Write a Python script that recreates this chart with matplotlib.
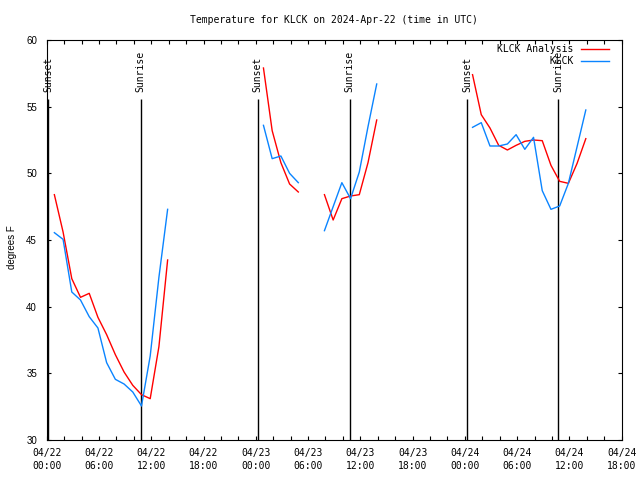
import matplotlib
matplotlib.use("Agg")
import matplotlib.pyplot as plt
from matplotlib.ticker import MultipleLocator
import numpy as np

# ---- data (hours since 2024-04-22 00:00 UTC) ----
red_t1 = [0.88, 1.88, 2.88, 3.88, 4.88, 5.88, 6.88, 7.88, 8.88, 9.88, 10.88, 11.88, 12.88, 13.88]
red_v1 = [48.4, 45.6, 42.1, 40.7, 41.0, 39.2, 37.9, 36.4, 35.1, 34.1, 33.4, 33.1, 37.0, 43.5]
blue_t1 = [0.88, 1.88, 2.88, 3.88, 4.88, 5.88, 6.88, 7.88, 8.88, 9.88, 10.88, 11.88, 12.88, 13.88]
blue_v1 = [45.55, 45.05, 41.1, 40.5, 39.25, 38.4, 35.8, 34.55, 34.2, 33.6, 32.55, 36.3, 42.2, 47.3]

red_t2 = [24.88, 25.88, 26.88, 27.88, 28.88]
red_v2 = [57.9, 53.2, 50.8, 49.2, 48.6]
blue_t2 = [24.88, 25.88, 26.88, 27.88, 28.88]
blue_v2 = [53.6, 51.1, 51.3, 50.0, 49.3]

red_t3 = [31.88, 32.88, 33.88, 34.88, 35.88, 36.88, 37.88]
red_v3 = [48.4, 46.5, 48.1, 48.3, 48.4, 50.8, 54.0]
blue_t3 = [31.88, 32.88, 33.88, 34.88, 35.88, 36.88, 37.88]
blue_v3 = [45.7, 47.5, 49.3, 48.1, 50.1, 53.5, 56.7]

red_t4 = [48.88, 49.88, 50.88, 51.88, 52.88, 53.88, 54.88, 55.88, 56.88, 57.88, 58.88, 59.88, 60.88, 61.88]
red_v4 = [57.4, 54.4, 53.4, 52.1, 51.75, 52.1, 52.4, 52.5, 52.45, 50.6, 49.4, 49.25, 50.75, 52.6]
blue_t4 = [48.88, 49.88, 50.88, 51.88, 52.88, 53.88, 54.88, 55.88, 56.88, 57.88, 58.88, 59.88, 60.88, 61.88]
blue_v4 = [53.45, 53.8, 52.05, 52.05, 52.2, 52.9, 51.8, 52.7, 48.7, 47.3, 47.55, 49.25, 52.0, 54.75]

sunset_times = [0.2, 24.22, 48.25]
sunrise_times = [10.78, 34.76, 58.73]

xtick_pos = [0, 6, 12, 18, 24, 30, 36, 42, 48, 54, 60, 66]
xtick_labels = ["04/22\n00:00", "04/22\n06:00", "04/22\n12:00", "04/22\n18:00",
                "04/23\n00:00", "04/23\n06:00", "04/23\n12:00", "04/23\n18:00",
                "04/24\n00:00", "04/24\n06:00", "04/24\n12:00", "04/24\n18:00"]
ytick_pos = [30, 35, 40, 45, 50, 55, 60]

title = "Temperature for KLCK on 2024-Apr-22 (time in UTC)"
ylabel = "degrees F"
red_name = "KLCK Analysis"
blue_name = "KLCK"

RED = "#ff0000"
BLUE = "#0a84ff"
MONO = "DejaVu Sans Mono"
SANS = "Liberation Sans"

fig = plt.figure(figsize=(6.4, 4.8), dpi=100)
ax = fig.add_axes([46.7 / 640, 1 - 440 / 480, 575 / 640, 400 / 480])

# right-justify legend names (monospace font -> pad with spaces)
width = max(len(red_name), len(blue_name))
red_label = red_name.rjust(width)
blue_label = blue_name.rjust(width)

segments = [(red_t1, red_v1, blue_t1, blue_v1), (red_t2, red_v2, blue_t2, blue_v2),
            (red_t3, red_v3, blue_t3, blue_v3), (red_t4, red_v4, blue_t4, blue_v4)]
for i, (rt, rv, bt, bv) in enumerate(segments):
    ax.plot(rt, rv, color=RED, lw=1.0, label=red_label if i == 0 else None, zorder=3)
for i, (rt, rv, bt, bv) in enumerate(segments):
    ax.plot(bt, bv, color=BLUE, lw=1.0, label=blue_label if i == 0 else None, zorder=3)

line_top = 55.6
ax.vlines(sunset_times + sunrise_times, 30, line_top, color="black", lw=1.0, zorder=2)
for t in sunset_times:
    ax.text(t, 56.1, "Sunset", rotation=90, ha="center", va="bottom",
            family=MONO, fontsize=7)
for t in sunrise_times:
    ax.text(t, 56.1, "Sunrise", rotation=90, ha="center", va="bottom",
            family=MONO, fontsize=7)

ax.set_xlim(0, 66)
ax.set_ylim(30, 60)
ax.set_xticks(xtick_pos)
ax.set_xticklabels(xtick_labels, family=MONO, fontsize=7, linespacing=1.35)
ax.xaxis.set_minor_locator(MultipleLocator(2))
ax.set_yticks(ytick_pos)
ax.set_yticklabels([str(v) for v in ytick_pos], family=SANS, fontsize=7)
ax.tick_params(axis="both", which="both", direction="in", top=True, right=True,
               length=3, width=0.8, color="black")
ax.tick_params(axis="x", which="major", pad=6)
ax.tick_params(axis="y", which="major", pad=7)
for s in ax.spines.values():
    s.set_linewidth(0.8)
    s.set_color("black")

fig.text(334 / 640, 1 - 20 / 480, title, ha="center", va="center",
         family=MONO, fontsize=7)
fig.text(11.7 / 640, 1 - 247 / 480, ylabel, ha="center", va="center",
         rotation=90, family=SANS, fontsize=7)

ax.legend(loc="upper right", bbox_to_anchor=(1 - 12.5 / 575, 1 - 4 / 400),
          frameon=False, markerfirst=False, prop={"family": MONO, "size": 7},
          handlelength=2.9, handletextpad=0.8, labelspacing=0.25,
          borderaxespad=0, borderpad=0)

fig.savefig("out.png", dpi=100)
